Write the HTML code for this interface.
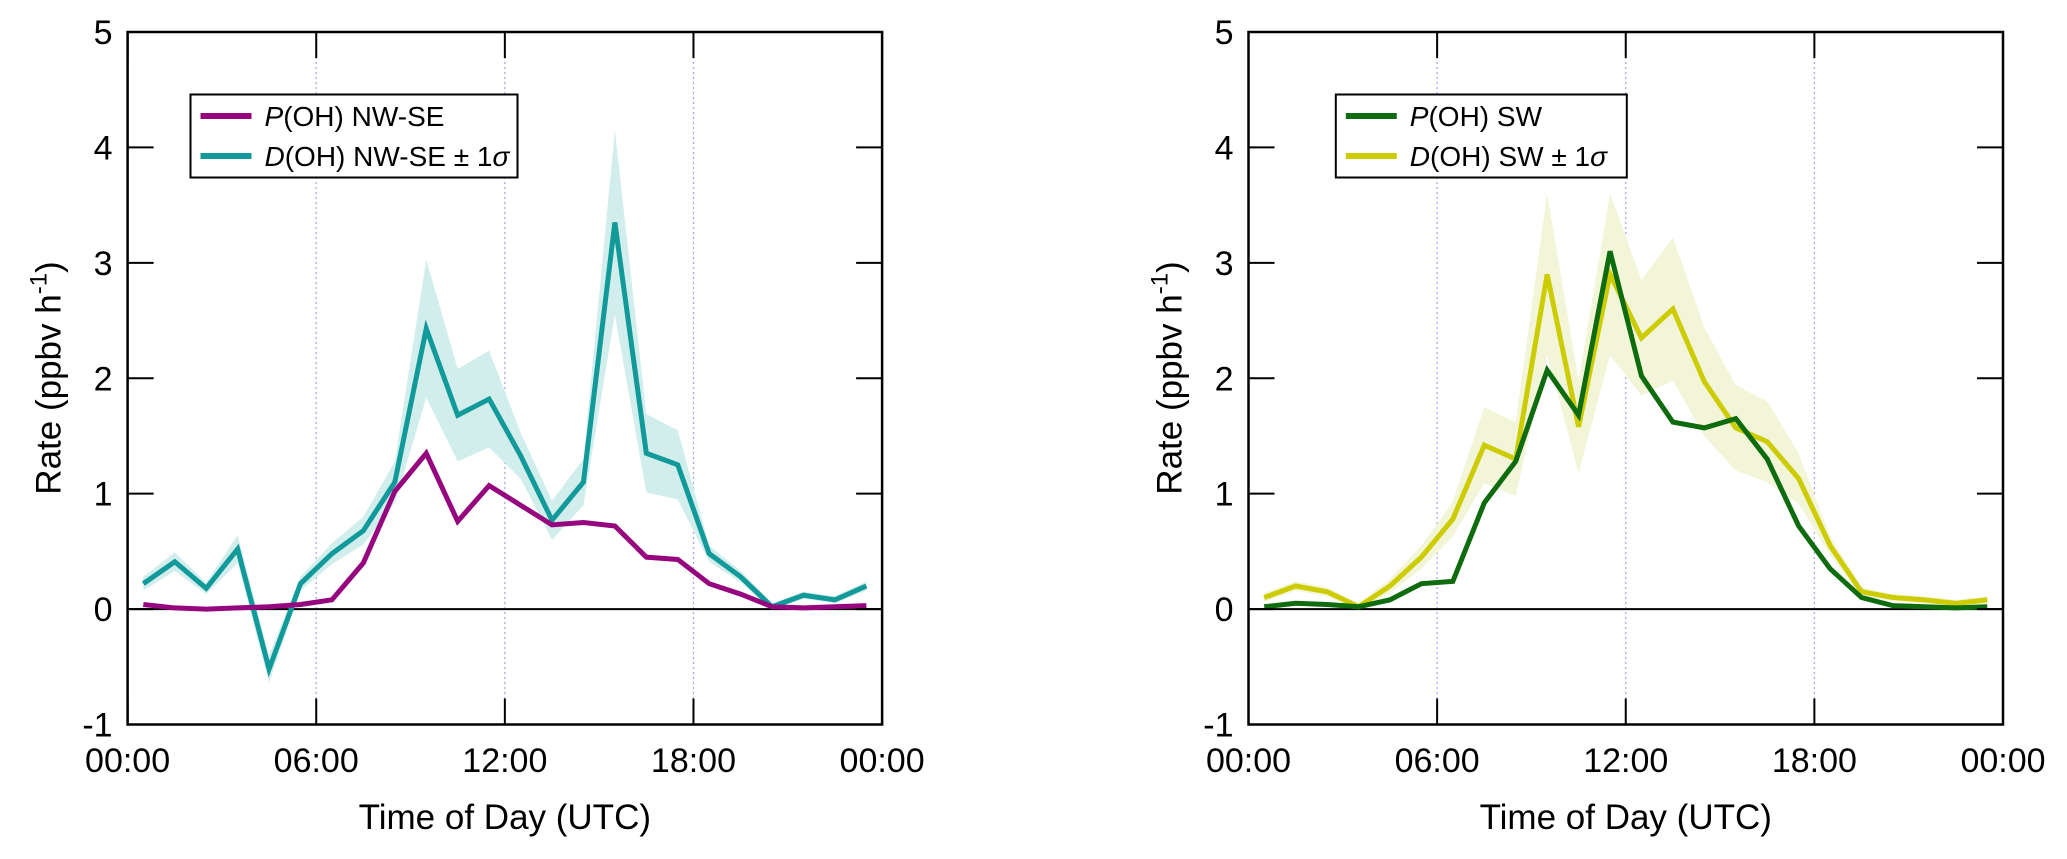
<!DOCTYPE html>
<html><head><meta charset="utf-8">
<style>
html,body{margin:0;padding:0;background:#fff;}
svg{display:block;font-family:"Liberation Sans",Arial,sans-serif;}
</style></head>
<body>
<svg id="chart" width="2067" height="859" viewBox="0 0 2067 859" xmlns="http://www.w3.org/2000/svg"></svg>
<script>
const hours = [0.5,1.5,2.5,3.5,4.5,5.5,6.5,7.5,8.5,9.5,10.5,11.5,12.5,13.5,14.5,15.5,16.5,17.5,18.5,19.5,20.5,21.5,22.5,23.5];
const pNWSE = [0.04,0.01,0.0,0.01,0.02,0.04,0.08,0.4,1.02,1.35,0.76,1.07,0.9,0.73,0.75,0.72,0.45,0.43,0.22,0.13,0.02,0.01,0.02,0.03];
const dNWSE = [0.22,0.41,0.18,0.52,-0.52,0.22,0.48,0.68,1.1,2.43,1.68,1.82,1.33,0.77,1.1,3.35,1.35,1.25,0.48,0.28,0.02,0.12,0.08,0.2];
const dNWSEsd = [0.06,0.08,0.05,0.12,0.12,0.06,0.09,0.12,0.18,0.6,0.4,0.42,0.2,0.17,0.2,0.8,0.34,0.3,0.07,0.05,0.03,0.03,0.03,0.04];
const pSW = [0.02,0.05,0.04,0.02,0.08,0.22,0.24,0.92,1.28,2.07,1.68,3.1,2.02,1.62,1.57,1.65,1.3,0.72,0.35,0.1,0.03,0.02,0.01,0.02];
const dSW = [0.1,0.2,0.15,0.02,0.2,0.45,0.78,1.42,1.3,2.9,1.58,2.9,2.35,2.6,1.97,1.57,1.45,1.13,0.55,0.15,0.1,0.08,0.05,0.08];
const dSWsd = [0.04,0.04,0.04,0.03,0.06,0.1,0.15,0.33,0.32,0.7,0.4,0.7,0.5,0.62,0.47,0.37,0.35,0.22,0.08,0.04,0.03,0.03,0.03,0.03];
const yTicks = [-1,0,1,2,3,4,5];
const xTickHours = [0,6,12,18,24];
const xTickLabels = ["00:00","06:00","12:00","18:00","00:00"];

const NS="http://www.w3.org/2000/svg";
const svg=document.getElementById('chart');
function mk(tag,attrs,parent){const e=document.createElementNS(NS,tag);for(const k in attrs)e.setAttribute(k,attrs[k]);(parent||svg).appendChild(e);return e;}

function panel(id,x0,series){
  const top=32,bot=724.5,w=754.5;
  const yMin=-1,yMax=5;
  const X=h=>x0+h/24*w;
  const Y=v=>bot-(v-yMin)/(yMax-yMin)*(bot-top);
  const g=mk('g',{});
  
  
  [6,12,18].forEach(h=>{
    const l=mk('line',{x1:X(h),x2:X(h),y1:top,y2:bot,stroke:'#a9a9f0','stroke-width':1.3,'stroke-dasharray':'2,3'},g);
    
    
  });
  series.forEach(s=>{
    if(!s.sd)return;
    let up=hours.map((h,i)=>X(h)+','+Y(s.vals[i]+s.sd[i]));
    let lo=hours.map((h,i)=>X(h)+','+Y(s.vals[i]-s.sd[i])).reverse();
    const p=mk('polygon',{points:up.concat(lo).join(' '),fill:s.band},g);
    
    
  });
  const z=mk('line',{x1:x0,x2:x0+w,y1:Y(0),y2:Y(0),stroke:'#000','stroke-width':2},g);
  
  
  series.forEach(s=>{
    const pl=mk('polyline',{points:hours.map((h,i)=>X(h)+','+Y(s.vals[i])).join(' '),fill:'none',stroke:s.color,'stroke-width':5,'stroke-linejoin':'miter'},g);
    
    
  });
  const fr=mk('rect',{x:x0,y:top,width:w,height:bot-top,fill:'none',stroke:'#000','stroke-width':2.5},g);
  
  
  yTicks.forEach(v=>{
    mk('line',{x1:x0,x2:x0+26,y1:Y(v),y2:Y(v),stroke:'#000','stroke-width':2},g);
    mk('line',{x1:x0+w,x2:x0+w-26,y1:Y(v),y2:Y(v),stroke:'#000','stroke-width':2},g);
    const t=mk('text',{x:x0-15,y:Y(v)+12,'text-anchor':'end','font-size':34},g);
    t.textContent=v;
    
    
  });
  xTickHours.forEach((h,i)=>{
    mk('line',{x1:X(h),x2:X(h),y1:bot,y2:bot-26,stroke:'#000','stroke-width':2},g);
    mk('line',{x1:X(h),x2:X(h),y1:top,y2:top+26,stroke:'#000','stroke-width':2},g);
    const t=mk('text',{x:X(h),y:772,'text-anchor':'middle','font-size':34},g);
    t.textContent=xTickLabels[i];
    
    
  });
  const xt=mk('text',{x:x0+w/2,y:829,'text-anchor':'middle','font-size':35},g);
  xt.textContent='Time of Day (UTC)';
  
  
  const yt=mk('text',{x:0,y:0,'text-anchor':'middle','font-size':35,transform:`translate(${x0-67},378) rotate(-90)`},g);
  yt.innerHTML='Rate (ppbv h<tspan dy="-14" font-size="24">-1</tspan><tspan dy="14">)</tspan>';
  
  
  return {g,X,Y};
}

function legend(x,w,items){
  const g=mk('g',{});
  
  
  mk('rect',{x:x,y:94.5,width:w,height:83,fill:'#fff',stroke:'#000','stroke-width':2},g);
  items.forEach((it,i)=>{
    const y=[116,156][i];
    const ln=mk('line',{x1:x+10,x2:x+61,y1:y,y2:y,stroke:it.color,'stroke-width':6},g);
    
    
    const t=mk('text',{x:x+74,y:y+10,'font-size':28},g);
    t.innerHTML=it.html;
    
    
  });
}

panel('left',127.6,[
  {name:'d-oh-nwse',vals:dNWSE,sd:dNWSEsd,color:'#12999a',band:'#d2eeec'},
  {name:'p-oh-nwse',vals:pNWSE,color:'#96077f'}
]);
panel('right',1248.5,[
  {name:'d-oh-sw',vals:dSW,sd:dSWsd,color:'#cccc00',band:'#f3f5d8'},
  {name:'p-oh-sw',vals:pSW,color:'#0e6b0e'}
]);
legend(190.5,327,[
  {color:'#96077f',html:'<tspan font-style="italic">P</tspan>(OH) NW-SE'},
  {color:'#12999a',html:'<tspan font-style="italic">D</tspan>(OH) NW-SE ± 1<tspan font-style="italic">σ</tspan>'}
]);
legend(1335.8,291,[
  {color:'#0e6b0e',html:'<tspan font-style="italic">P</tspan>(OH) SW'},
  {color:'#cccc00',html:'<tspan font-style="italic">D</tspan>(OH) SW ± 1<tspan font-style="italic">σ</tspan>'}
]);
</script>
</body></html>
